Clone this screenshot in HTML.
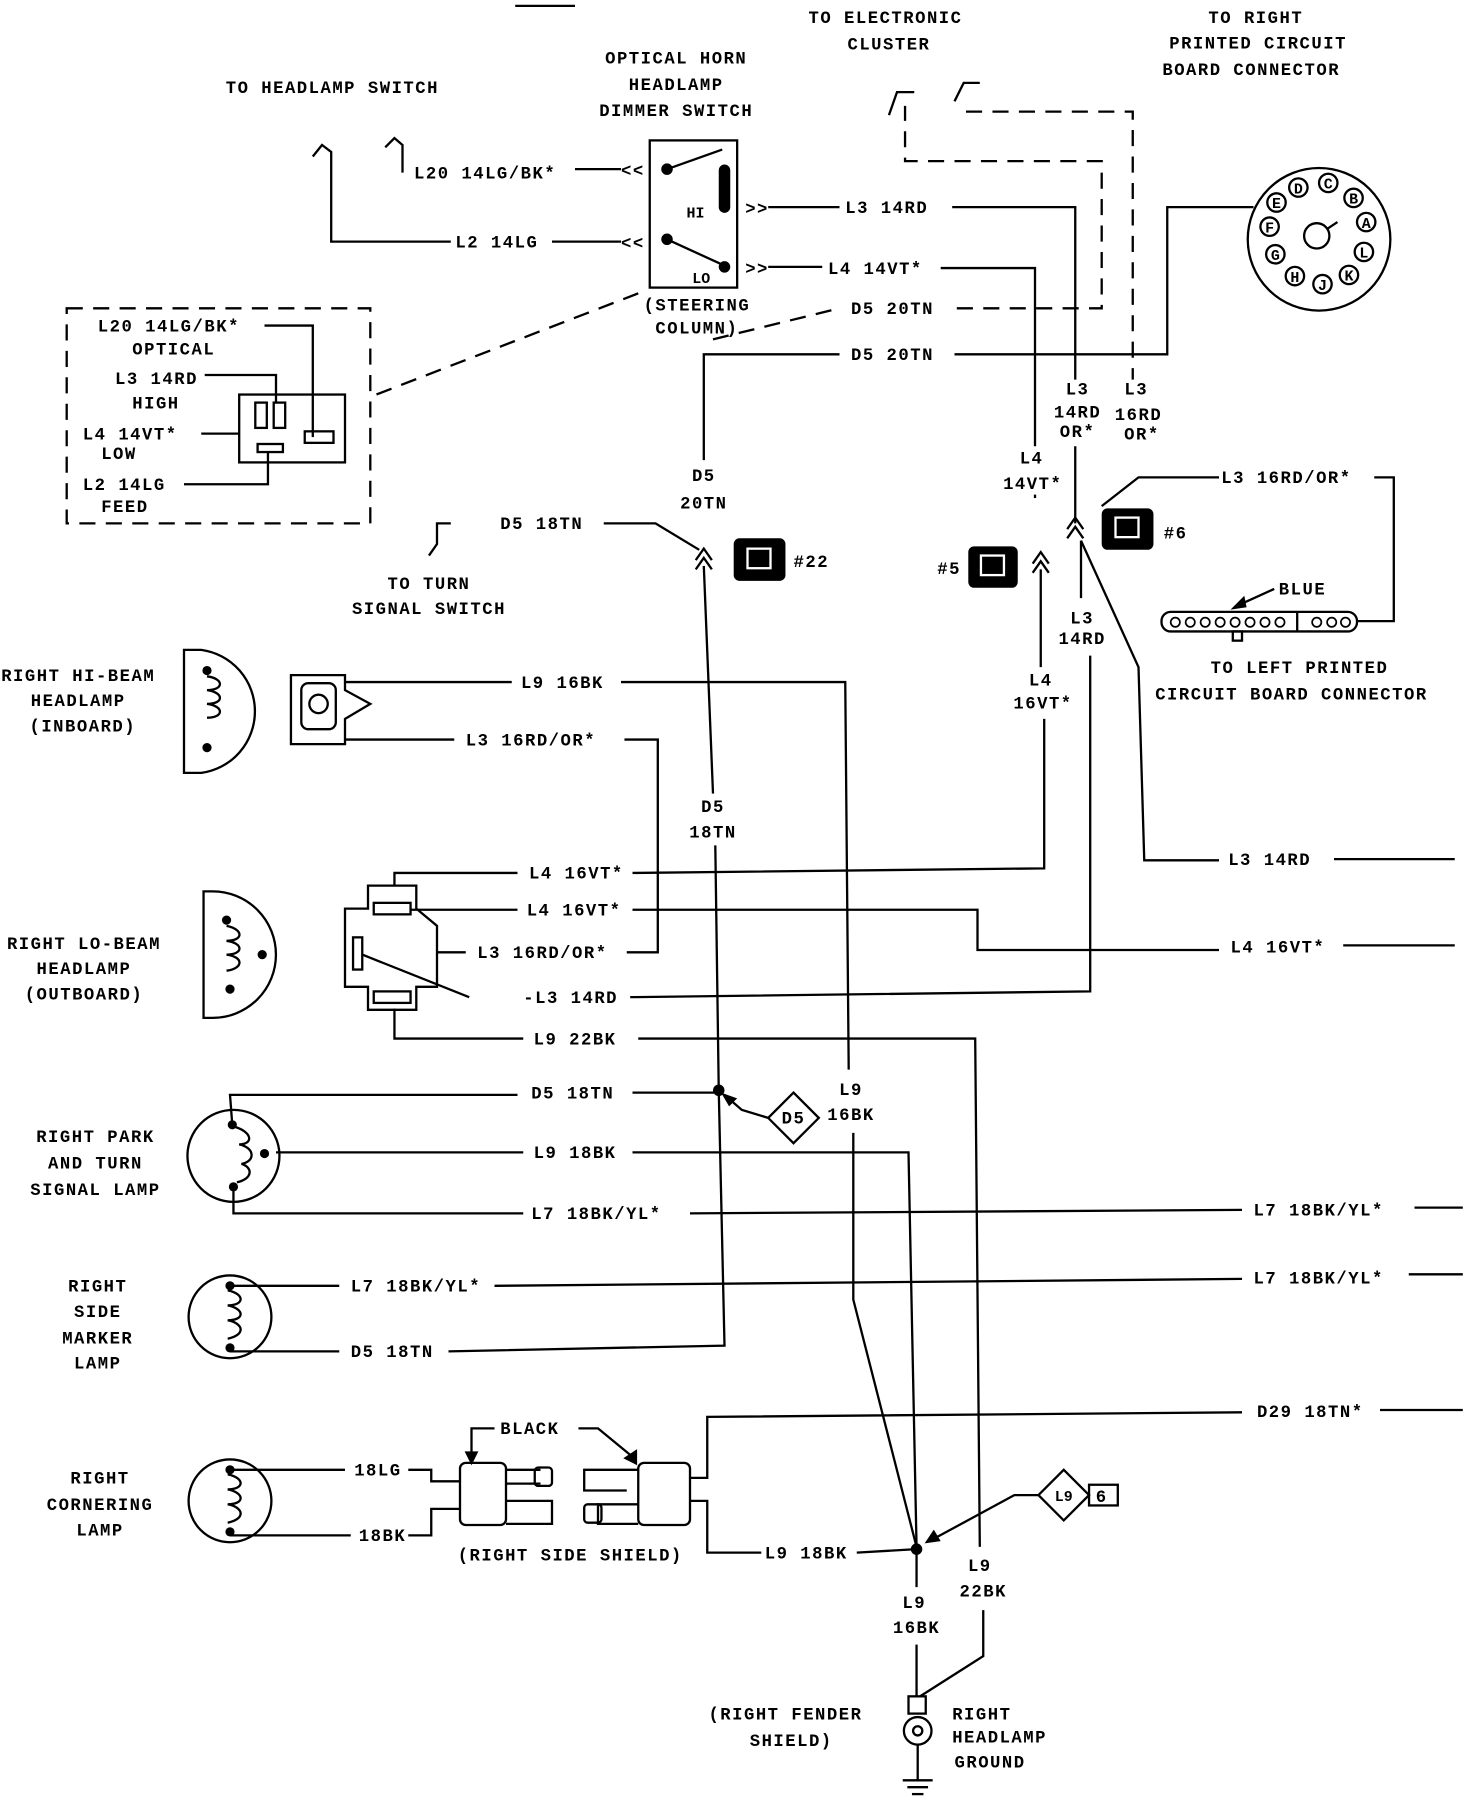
<!DOCTYPE html>
<html><head><meta charset="utf-8"><style>
html,body{margin:0;padding:0;background:#fff}
svg{display:block}
text{font-family:"Liberation Mono",monospace;font-weight:bold;font-size:15px;letter-spacing:1.3px;fill:#000}
.c{text-anchor:middle}
.l{fill:none;stroke:#000;stroke-width:2}
.d{fill:none;stroke:#000;stroke-width:2;stroke-dasharray:14,9}
.s{font-size:13px;letter-spacing:0}
</style></head><body>
<svg width="1472" height="1808" viewBox="0 0 1280 1572" xmlns="http://www.w3.org/2000/svg">
<line class="l" x1="448" y1="5" x2="500" y2="5"/>
<!-- top headings -->
<text class="c" x="289" y="81">TO HEADLAMP SWITCH</text>
<text class="c" x="588" y="55">OPTICAL HORN</text>
<text class="c" x="588" y="78">HEADLAMP</text>
<text class="c" x="588" y="101">DIMMER SWITCH</text>
<text class="c" x="770" y="20">TO ELECTRONIC</text>
<text class="c" x="773" y="43">CLUSTER</text>
<text class="c" x="1092" y="20">TO RIGHT</text>
<text class="c" x="1094" y="42">PRINTED CIRCUIT</text>
<text class="c" x="1088" y="65">BOARD CONNECTOR</text>

<!-- headlamp switch ticks -->
<path class="l" d="M272,136 L280,126 L288,132 L288,210 L392,210"/>
<path class="l" d="M335,128 L343,120 L350,126 L350,150"/>
<text x="360" y="155">L20 14LG/BK*</text>
<line class="l" x1="500" y1="147" x2="540" y2="147"/>
<text x="540" y="153">&lt;&lt;</text>
<text x="396" y="215">L2 14LG</text>
<line class="l" x1="480" y1="210" x2="540" y2="210"/>
<text x="540" y="216">&lt;&lt;</text>
<!-- switch box -->
<rect class="l" x="565" y="122" width="76" height="128"/>
<circle cx="580" cy="147" r="5"/>
<line class="l" x1="580" y1="147" x2="628" y2="130"/>
<rect x="625" y="143" width="10" height="42" rx="5"/>
<text class="s" x="597" y="189">HI</text>
<circle cx="580" cy="208" r="5"/>
<line class="l" x1="580" y1="208" x2="628" y2="230"/>
<circle cx="630" cy="232" r="5"/>
<text class="s" x="602" y="246">LO</text>
<text x="648" y="186">&gt;&gt;</text>
<text x="648" y="238">&gt;&gt;</text>
<line class="l" x1="668" y1="180" x2="730" y2="180"/>
<text x="735" y="185">L3 14RD</text>
<path class="l" d="M828,180 L935,180 L935,330"/>
<line class="l" x1="668" y1="232" x2="715" y2="232"/>
<text x="720" y="238">L4 14VT*</text>
<path class="l" d="M818,233 L900,233 L900,388"/>
<text class="c" x="606" y="270">(STEERING</text>
<text class="c" x="606" y="290">COLUMN)</text>
<line class="d" x1="555" y1="255" x2="322" y2="345"/>
<!-- dashed D5 -->
<line class="d" x1="620" y1="295" x2="730" y2="268"/>
<text x="740" y="273">D5 20TN</text>
<path class="d" d="M832,268 L958,268 L958,140 L787,140 L787,92"/>
<path class="l" d="M773,100 L780,80 L795,80"/>
<path class="l" d="M830,88 L838,72 L852,72"/>
<path class="d" d="M840,97 L985,97 L985,330"/>
<text x="740" y="313">D5 20TN</text>
<path class="l" d="M730,308 L612,308 L612,400"/>
<path class="l" d="M830,308 L1015,308 L1015,180 L1090,180"/>
<!-- round connector -->
<circle class="l" cx="1147" cy="208" r="62"/>
<circle class="l" cx="1145" cy="205" r="11"/>
<line class="l" x1="1154" y1="199" x2="1163" y2="193"/>
<g font-size="11">
<circle class="l" cx="1129" cy="163" r="8"/><text class="c s" x="1129" y="168">D</text>
<circle class="l" cx="1155" cy="159" r="8"/><text class="c s" x="1155" y="164">C</text>
<circle class="l" cx="1177" cy="172" r="8"/><text class="c s" x="1177" y="177">B</text>
<circle class="l" cx="1188" cy="193" r="8"/><text class="c s" x="1188" y="198">A</text>
<circle class="l" cx="1186" cy="219" r="8"/><text class="c s" x="1186" y="224">L</text>
<circle class="l" cx="1173" cy="239" r="8"/><text class="c s" x="1173" y="244">K</text>
<circle class="l" cx="1150" cy="247" r="8"/><text class="c s" x="1150" y="252">J</text>
<circle class="l" cx="1126" cy="240" r="8"/><text class="c s" x="1126" y="245">H</text>
<circle class="l" cx="1109" cy="221" r="8"/><text class="c s" x="1109" y="226">G</text>
<circle class="l" cx="1104" cy="197" r="8"/><text class="c s" x="1104" y="202">F</text>
<circle class="l" cx="1110" cy="176" r="8"/><text class="c s" x="1110" y="181">E</text>
</g>
<!-- dashed box -->
<rect class="d" x="58" y="268" width="264" height="187"/>
<text x="85" y="288">L20 14LG/BK*</text>
<path class="l" d="M230,283 L272,283 L272,380"/>
<text x="115" y="308">OPTICAL</text>
<text x="100" y="334">L3 14RD</text>
<path class="l" d="M178,326 L240,326 L240,350"/>
<text x="115" y="355">HIGH</text>
<rect class="l" x="208" y="343" width="92" height="59"/>
<rect class="l" x="222" y="350" width="10" height="22"/>
<rect class="l" x="238" y="350" width="10" height="22"/>
<rect class="l" x="224" y="386" width="22" height="7"/>
<rect class="l" x="265" y="375" width="25" height="10"/>
<text x="72" y="382">L4 14VT*</text>
<line class="l" x1="175" y1="377" x2="208" y2="377"/>
<text x="88" y="399">LOW</text>
<text x="72" y="426">L2 14LG</text>
<path class="l" d="M160,421 L233,421 L233,393"/>
<text x="88" y="445">FEED</text>
<!-- column labels -->
<text class="c" x="937" y="343">L3</text>
<text class="c" x="937" y="363">14RD</text>
<text class="c" x="937" y="380">OR*</text>
<text class="c" x="988" y="343">L3</text>
<text class="c" x="990" y="365">16RD</text>
<text class="c" x="993" y="382">OR*</text>
<text class="c" x="897" y="403">L4</text>
<text class="c" x="898" y="425">14VT*</text>
<line class="l" x1="935" y1="388" x2="935" y2="455"/>
<line class="l" x1="900" y1="430" x2="900" y2="433"/>
<text x="1062" y="420">L3 16RD/OR*</text>
<path class="l" d="M958,440 L990,415 L1060,415"/>
<path class="l" d="M1195,415 L1212,415 L1212,540 L1180,540"/>
<path class="l" d="M928,468 L935,458 L942,468"/>
<path class="l" d="M898,498 L905,488 L912,498"/>
<path class="l" d="M898,490 L905,480 L912,490"/>
<path class="l" d="M605,495 L612,485 L619,495"/>
<path class="l" d="M605,487 L612,477 L619,487"/>
<path class="l" d="M928,460 L935,450 L942,460"/>
<!-- connector icons -->
<rect x="958" y="442" width="45" height="36" rx="5"/><rect x="970" y="450" width="20" height="17" fill="none" stroke="#fff" stroke-width="2"/>
<text x="1012" y="468">#6</text>
<rect x="842" y="475" width="43" height="36" rx="5"/><rect x="853" y="483" width="20" height="17" fill="none" stroke="#fff" stroke-width="2"/>
<text x="815" y="499">#5</text>
<rect x="638" y="468" width="45" height="37" rx="5"/><rect x="650" y="477" width="20" height="17" fill="none" stroke="#fff" stroke-width="2"/>
<text x="690" y="493">#22</text>
<!-- blue connector -->
<rect class="l" x="1010" y="532" width="170" height="17" rx="8"/>
<g fill="none" stroke="#000" stroke-width="1.5">
<circle cx="1022" cy="541" r="4"/><circle cx="1035" cy="541" r="4"/><circle cx="1048" cy="541" r="4"/><circle cx="1061" cy="541" r="4"/><circle cx="1074" cy="541" r="4"/><circle cx="1087" cy="541" r="4"/><circle cx="1100" cy="541" r="4"/><circle cx="1113" cy="541" r="4"/><circle cx="1145" cy="541" r="4"/><circle cx="1158" cy="541" r="4"/><circle cx="1170" cy="541" r="4"/>
</g>
<line class="l" x1="1128" y1="532" x2="1128" y2="549"/>
<rect class="l" x="1072" y="549" width="8" height="8"/>
<text x="1112" y="517">BLUE</text>
<line class="l" x1="1108" y1="512" x2="1075" y2="527"/>
<path d="M1070,530 L1082,518 L1084,528Z"/>
<text class="c" x="1130" y="585">TO LEFT PRINTED</text>
<text class="c" x="1123" y="608">CIRCUIT BOARD CONNECTOR</text>
<!-- L3 14RD / L4 below icons -->
<line class="l" x1="940" y1="470" x2="940" y2="520"/>
<text class="c" x="941" y="542">L3</text>
<text class="c" x="941" y="560">14RD</text>
<path class="l" d="M948,570 L948,862 L548,867"/>
<text x="455" y="872">-L3 14RD</text>
<path class="l" d="M940,470 L990,580 L995,748 L1060,748"/>
<text x="1068" y="752">L3 14RD</text>
<line class="l" x1="1160" y1="747" x2="1265" y2="747"/>
<line class="l" x1="905" y1="495" x2="905" y2="580"/>
<text class="c" x="905" y="596">L4</text>
<text class="c" x="907" y="616">16VT*</text>
<path class="l" d="M908,625 L908,755 L550,759"/>
<text x="460" y="764">L4 16VT*</text>
<text x="458" y="796">L4 16VT*</text>
<path class="l" d="M550,791 L850,791 L850,826 L1060,826"/>
<text x="1070" y="828">L4 16VT*</text>
<line class="l" x1="1168" y1="822" x2="1265" y2="822"/>
<!-- turn signal -->
<path class="l" d="M373,483 L380,473 L380,455 L392,455"/>
<text x="435" y="460">D5 18TN</text>
<path class="l" d="M525,455 L570,455 L608,478"/>
<text class="c" x="373" y="512">TO TURN</text>
<text class="c" x="373" y="534">SIGNAL SWITCH</text>
<text class="c" x="612" y="418">D5</text>
<text class="c" x="612" y="442">20TN</text>
<line class="l" x1="612" y1="492" x2="620" y2="690"/>
<text class="c" x="620" y="706">D5</text>
<text class="c" x="620" y="728">18TN</text>
<path class="l" d="M622,735 L625,948 L630,1170 L390,1175"/>
<!-- hi beam -->
<text class="c" x="68" y="592">RIGHT HI-BEAM</text>
<text class="c" x="68" y="614">HEADLAMP</text>
<text class="c" x="72" y="636">(INBOARD)</text>
<path class="l" d="M160,565 L160,672 L175,672 A54,54 0 0 0 175,565 Z"/>
<path class="l" d="M180,588 C195,590 195,600 180,600 C195,602 195,612 180,612 C195,614 195,624 180,624"/>
<circle cx="180" cy="583" r="4"/><circle cx="180" cy="650" r="4"/>
<path class="l" d="M253,587 L300,587 L300,600 L322,612 L300,625 L300,647 L253,647 Z"/>
<rect class="l" x="262" y="594" width="30" height="40" rx="6"/>
<circle class="l" cx="277" cy="612" r="8"/>
<line class="l" x1="300" y1="593" x2="445" y2="593"/>
<text x="453" y="598">L9 16BK</text>
<path class="l" d="M540,593 L735,593 L738,930"/>
<text class="c" x="740" y="952">L9</text>
<text class="c" x="740" y="974">16BK</text>
<path class="l" d="M742,985 L742,1130 L797,1345"/>
<line class="l" x1="300" y1="643" x2="395" y2="643"/>
<text x="405" y="648">L3 16RD/OR*</text>
<path class="l" d="M543,643 L572,643 L572,828 L545,828"/>
<!-- lo beam -->
<text class="c" x="73" y="825">RIGHT LO-BEAM</text>
<text class="c" x="73" y="847">HEADLAMP</text>
<text class="c" x="73" y="869">(OUTBOARD)</text>
<path class="l" d="M177,775 L177,885 L185,885 A55,55 0 0 0 185,775 Z"/>
<path class="l" d="M197,805 C212,808 212,818 197,818 C212,820 212,830 197,830 C212,832 212,842 197,844"/>
<circle cx="197" cy="800" r="4"/><circle cx="200" cy="860" r="4"/><circle cx="228" cy="830" r="4"/>
<path class="l" d="M320,770 L362,770 L362,790 L380,805 L380,858 L362,858 L362,878 L320,878 L320,858 L300,858 L300,790 L320,790 Z"/>
<rect class="l" x="325" y="785" width="32" height="10"/>
<rect class="l" x="307" y="815" width="8" height="28"/>
<rect class="l" x="325" y="862" width="32" height="10"/>
<path class="l" d="M343,770 L343,759 L450,759"/>
<line class="l" x1="357" y1="791" x2="450" y2="791"/>
<line class="l" x1="380" y1="828" x2="405" y2="828"/>
<text x="415" y="833">L3 16RD/OR*</text>
<line class="l" x1="315" y1="830" x2="408" y2="867"/>
<path class="l" d="M343,877 L343,903 L455,903"/>
<text x="464" y="908">L9 22BK</text>
<path class="l" d="M555,903 L848,903 L852,1345"/>
<text class="c" x="852" y="1366">L9</text>
<text class="c" x="855" y="1388">22BK</text>
<path class="l" d="M855,1400 L855,1440 L800,1475"/>
<!-- park lamp -->
<text class="c" x="83" y="993">RIGHT PARK</text>
<text class="c" x="83" y="1016">AND TURN</text>
<text class="c" x="83" y="1039">SIGNAL LAMP</text>
<circle class="l" cx="203" cy="1005" r="40"/>
<path class="l" d="M205,980 C220,985 220,995 208,995 C222,998 222,1010 210,1012 C220,1015 220,1025 206,1028"/>
<circle cx="202" cy="978" r="4"/><circle cx="203" cy="1032" r="4"/><circle cx="230" cy="1003" r="4"/>
<path class="l" d="M202,978 L200,952 L450,952"/>
<text x="462" y="955">D5 18TN</text>
<line class="l" x1="550" y1="950" x2="625" y2="950"/>
<circle cx="625" cy="948" r="5"/>
<path class="l" d="M690,950 L712,972 L690,994 L668,972 Z"/>
<text class="c" x="690" y="977">D5</text>
<path class="l" d="M668,972 L645,965 L630,952"/>
<path d="M627,950 L641,955 L634,962Z"/>
<line class="l" x1="240" y1="1002" x2="455" y2="1002"/>
<text x="464" y="1007">L9 18BK</text>
<path class="l" d="M550,1002 L790,1002 L797,1345"/>
<path class="l" d="M203,1032 L203,1055 L455,1055"/>
<text x="462" y="1060">L7 18BK/YL*</text>
<line class="l" x1="600" y1="1055" x2="1080" y2="1052"/>
<text x="1090" y="1057">L7 18BK/YL*</text>
<line class="l" x1="1230" y1="1050" x2="1272" y2="1050"/>
<!-- side marker -->
<text class="c" x="85" y="1123">RIGHT</text>
<text class="c" x="85" y="1145">SIDE</text>
<text class="c" x="85" y="1168">MARKER</text>
<text class="c" x="85" y="1190">LAMP</text>
<circle class="l" cx="200" cy="1145" r="36"/>
<path class="l" d="M198,1122 C213,1125 213,1135 198,1135 C213,1138 213,1148 198,1148 C213,1151 213,1161 198,1164"/>
<circle cx="200" cy="1118" r="4"/><circle cx="200" cy="1172" r="4"/>
<line class="l" x1="200" y1="1118" x2="295" y2="1118"/>
<text x="305" y="1123">L7 18BK/YL*</text>
<line class="l" x1="430" y1="1118" x2="1080" y2="1112"/>
<text x="1090" y="1116">L7 18BK/YL*</text>
<line class="l" x1="1225" y1="1108" x2="1272" y2="1108"/>
<line class="l" x1="200" y1="1175" x2="295" y2="1175"/>
<text x="305" y="1180">D5 18TN</text>
<!-- cornering -->
<text class="c" x="87" y="1290">RIGHT</text>
<text class="c" x="87" y="1313">CORNERING</text>
<text class="c" x="87" y="1335">LAMP</text>
<circle class="l" cx="200" cy="1305" r="36"/>
<path class="l" d="M198,1282 C213,1285 213,1295 198,1295 C213,1298 213,1308 198,1308 C213,1311 213,1321 198,1324"/>
<circle cx="200" cy="1278" r="4"/><circle cx="200" cy="1332" r="4"/>
<line class="l" x1="200" y1="1278" x2="300" y2="1278"/>
<text x="308" y="1283">18LG</text>
<path class="l" d="M355,1278 L375,1278 L375,1288 L400,1288"/>
<line class="l" x1="200" y1="1335" x2="305" y2="1335"/>
<text x="312" y="1340">18BK</text>
<path class="l" d="M355,1335 L375,1335 L375,1312 L400,1312"/>
<rect class="l" x="400" y="1272" width="40" height="54" rx="5"/>
<path class="l" d="M440,1278 L470,1278 M440,1290 L470,1290 M440,1305 L480,1305 L480,1325 L440,1325"/>
<rect class="l" x="465" y="1276" width="15" height="16" rx="3"/>
<rect class="l" x="555" y="1272" width="45" height="54" rx="5"/>
<path class="l" d="M555,1278 L508,1278 L508,1296 L545,1296 M555,1308 L520,1308 L520,1325 L555,1325"/>
<rect class="l" x="508" y="1308" width="15" height="16" rx="3"/>
<text x="435" y="1247">BLACK</text>
<path class="l" d="M430,1242 L410,1242 L410,1265"/>
<path d="M404,1262 L416,1262 L410,1274Z"/>
<path class="l" d="M503,1242 L520,1242 L548,1265"/>
<path d="M542,1268 L554,1260 L554,1274Z"/>
<text x="398" y="1357">(RIGHT SIDE SHIELD)</text>
<path class="l" d="M600,1285 L615,1285 L615,1232 L1080,1228"/>
<text x="1093" y="1232">D29 18TN*</text>
<line class="l" x1="1200" y1="1226" x2="1272" y2="1226"/>
<path class="l" d="M600,1305 L615,1305 L615,1350 L662,1350"/>
<text x="665" y="1355">L9 18BK</text>
<line class="l" x1="745" y1="1350" x2="797" y2="1347"/>
<circle cx="797" cy="1347" r="5"/>
<path class="l" d="M925,1278 L947,1300 L925,1322 L903,1300 Z"/>
<text class="c s" x="925" y="1305">L9</text>
<rect class="l" x="947" y="1291" width="25" height="18"/>
<text class="c" x="958" y="1306">6</text>
<path class="l" d="M903,1300 L882,1300 L812,1338"/>
<path d="M804,1342 L812,1330 L818,1340Z"/>
<line class="l" x1="797" y1="1347" x2="797" y2="1380"/>
<text class="c" x="795" y="1398">L9</text>
<text class="c" x="797" y="1420">16BK</text>
<line class="l" x1="797" y1="1430" x2="797" y2="1475"/>
<rect class="l" x="790" y="1475" width="15" height="15"/>
<circle class="l" cx="798" cy="1505" r="12"/>
<circle class="l" cx="798" cy="1505" r="4"/>
<line class="l" x1="798" y1="1517" x2="798" y2="1548"/>
<line class="l" x1="785" y1="1548" x2="811" y2="1548"/>
<line class="l" x1="789" y1="1554" x2="807" y2="1554"/>
<line class="l" x1="793" y1="1560" x2="803" y2="1560"/>
<text class="c" x="683" y="1495">(RIGHT FENDER</text>
<text class="c" x="688" y="1518">SHIELD)</text>
<text x="828" y="1495">RIGHT</text>
<text x="828" y="1515">HEADLAMP</text>
<text x="830" y="1537">GROUND</text>
</svg>
</body></html>
